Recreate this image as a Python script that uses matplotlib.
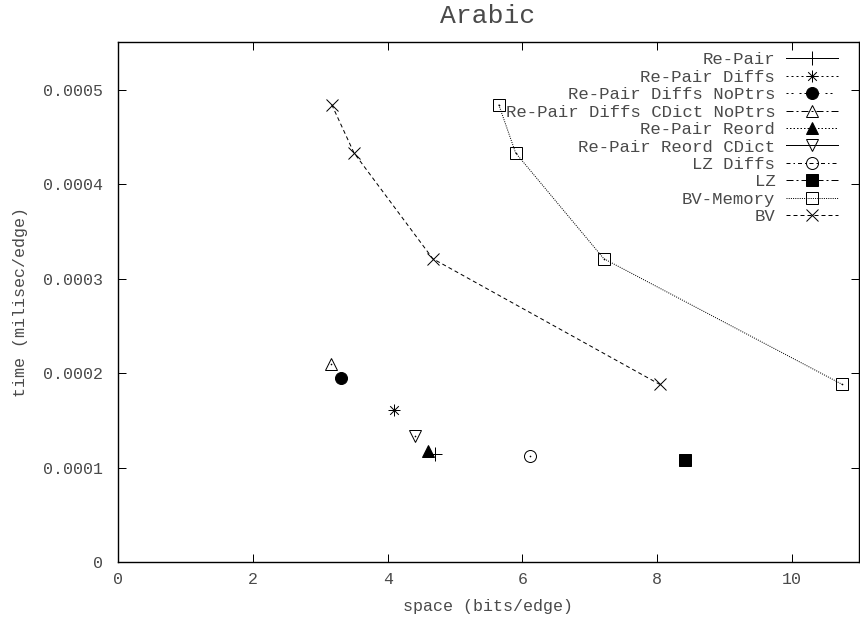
import matplotlib
matplotlib.use("Agg")
import matplotlib.pyplot as plt
from matplotlib.path import Path

plt.rcParams["font.family"] = ["Liberation Mono", "DejaVu Sans Mono"]
plt.rcParams["lines.scale_dashes"] = False

TEXT_COLOR = "#4a4a4a"

# ---- data: space (bits/edge) vs. time (milisec/edge) ----
series_names = [
    "Re-Pair",
    "Re-Pair Diffs",
    "Re-Pair Diffs NoPtrs",
    "Re-Pair Diffs CDict NoPtrs",
    "Re-Pair Reord",
    "Re-Pair Reord CDict",
    "LZ Diffs",
    "LZ",
    "BV-Memory",
    "BV",
]

repair_space = [4.70]
repair_time = [0.000114]

repair_diffs_space = [4.10]
repair_diffs_time = [0.000161]

repair_diffs_noptrs_space = [3.31]
repair_diffs_noptrs_time = [0.000195]

repair_diffs_cdict_noptrs_space = [3.16]
repair_diffs_cdict_noptrs_time = [0.000210]

repair_reord_space = [4.60]
repair_reord_time = [0.000118]

repair_reord_cdict_space = [4.41]
repair_reord_cdict_time = [0.000133]

lz_diffs_space = [6.12]
lz_diffs_time = [0.000112]

lz_space = [8.42]
lz_time = [0.000108]

bv_memory_space = [5.65, 5.90, 7.21, 10.75]
bv_memory_time = [0.000484, 0.000433, 0.000321, 0.000188]

bv_space = [3.17, 3.50, 4.67, 8.04]
bv_time = [0.000484, 0.000433, 0.000321, 0.000188]

x_ticks = [0, 2, 4, 6, 8, 10]
y_ticks = [0, 0.0001, 0.0002, 0.0003, 0.0004, 0.0005]
y_tick_labels = ["0", "0.0001", "0.0002", "0.0003", "0.0004", "0.0005"]

title_text = "Arabic"
x_label = "space (bits/edge)"
y_label = "time (milisec/edge)"

# ---- styles ----
ASTERISK = Path(
    [(-1, 0), (1, 0), (0, -1), (0, 1),
     (-0.72, -0.72), (0.72, 0.72), (-0.72, 0.72), (0.72, -0.72)],
    [Path.MOVETO, Path.LINETO] * 4,
)

PX = 0.72  # one pixel in points at 100 dpi
MS = 12 * PX
LW = 1.0 * PX

styles = [
    dict(marker="+", mfc="none", ls="-", dashes=None, ms=MS * 1.1),
    dict(marker=ASTERISK, mfc="none", ls="--", dashes=(2 * PX, 3 * PX), ms=MS),
    dict(marker="o", mfc="black", ls="--", dashes=(2 * PX, 3 * PX, 2 * PX, 6 * PX), ms=MS),
    dict(marker="^", mfc="none", ls="--", dashes=(7 * PX, 3 * PX, 2 * PX, 3 * PX), ms=MS),
    dict(marker="^", mfc="black", ls="--", dashes=(1.5 * PX, 2 * PX), ms=MS),
    dict(marker="v", mfc="none", ls="-", dashes=None, ms=MS),
    dict(marker="o", mfc="none", ls="--", dashes=(4 * PX, 3 * PX, 1.5 * PX, 3 * PX), ms=MS),
    dict(marker="s", mfc="black", ls="--", dashes=(7 * PX, 3 * PX, 2 * PX, 3 * PX), ms=MS),
    dict(marker="s", mfc="none", ls="--", dashes=(1 * PX, 1.2 * PX), ms=MS),
    dict(marker="x", mfc="none", ls="--", dashes=(4 * PX, 3 * PX), ms=MS),
]

spaces = [
    repair_space, repair_diffs_space, repair_diffs_noptrs_space,
    repair_diffs_cdict_noptrs_space, repair_reord_space, repair_reord_cdict_space,
    lz_diffs_space, lz_space, bv_memory_space, bv_space,
]
times = [
    repair_time, repair_diffs_time, repair_diffs_noptrs_time,
    repair_diffs_cdict_noptrs_time, repair_reord_time, repair_reord_cdict_time,
    lz_diffs_time, lz_time, bv_memory_time, bv_time,
]

# ---- figure ----
W, H = 860, 620
fig = plt.figure(figsize=(W / 100, H / 100), dpi=100)
left, right, top, bottom = 118.3, 859.0, 42.3, 562.0
ax = fig.add_axes([left / W, 1 - bottom / H, (right - left) / W, (bottom - top) / H])

handles = []
for name, xs, ys, st in zip(series_names, spaces, times, styles):
    line, = ax.plot(
        xs, ys,
        color="black", lw=LW,
        linestyle=st["ls"],
        marker=st["marker"], ms=st["ms"],
        mfc=st["mfc"], mec="black", mew=LW,
        label=name,
    )
    if st["dashes"] is not None:
        line.set_dashes(st["dashes"])
    handles.append(line)
    # small centre dot drawn inside open symbols
    if st["mfc"] == "none" and st["marker"] in ("^", "v", "o", "s"):
        ax.plot(xs, ys, ls="none", marker="o", ms=1.2, color="black", mew=0)

ax.set_xlim(0, 11)
ax.set_ylim(0, 0.00055)
ax.set_xticks(x_ticks)
ax.set_xticklabels([str(t) for t in x_ticks])
ax.set_yticks(y_ticks)
ax.set_yticklabels(y_tick_labels)

ax.tick_params(direction="in", length=8 * PX, width=1.0 * PX,
               top=True, right=True, labelsize=12, labelcolor=TEXT_COLOR)
ax.tick_params(axis="y", pad=11)
ax.tick_params(axis="x", pad=7.5)
for sp in ax.spines.values():
    sp.set_linewidth(1.4 * PX)

ax.set_xlabel(x_label, fontsize=12, color=TEXT_COLOR, va="baseline")
ax.xaxis.set_label_coords(488 / W, 1 - 611 / H, transform=fig.transFigure)
ax.set_ylabel(y_label, fontsize=12, color=TEXT_COLOR, va="center")
ax.yaxis.set_label_coords(21 / W, 1 - 302 / H, transform=fig.transFigure)

fig.text(488 / W, 1 - 23 / H, title_text, ha="center", va="baseline",
         fontsize=19, color=TEXT_COLOR)

# ---- key: text right-aligned, sample on the right, fixed row pitch ----
LEG_FS = 12.4
LEG_FS_PX = LEG_FS / 72 * 100
ROW_PITCH = 17.4      # pixels between key rows
FIRST_ROW = 60.0      # pixel row of the first entry


def make_legend(spacing, anchor_top):
    lg = ax.legend(
        handles=handles,
        loc="upper right",
        bbox_to_anchor=(838 / W, 1 - anchor_top / H),
        bbox_transform=fig.transFigure,
        frameon=False,
        markerfirst=False,
        fontsize=LEG_FS,
        handlelength=3.0,
        handletextpad=0.64,
        labelspacing=spacing,
        borderpad=0,
        borderaxespad=0,
        numpoints=1,
    )
    for t in lg.get_texts():
        t.set_color(TEXT_COLOR)
    return lg


spacing, anchor_top = 0.0, 50.0
for _ in range(4):
    leg = make_legend(spacing, anchor_top)
    fig.canvas.draw()
    rend = fig.canvas.get_renderer()
    centers = []
    for t in leg.get_texts():
        bb = t.get_window_extent(rend)
        centers.append(H - 0.5 * (bb.y0 + bb.y1))
    step = (centers[-1] - centers[0]) / (len(centers) - 1)
    spacing += (ROW_PITCH - step) / LEG_FS_PX
    anchor_top += FIRST_ROW - centers[0]
leg = make_legend(spacing, anchor_top)

fig.savefig("out.png", dpi=100)
